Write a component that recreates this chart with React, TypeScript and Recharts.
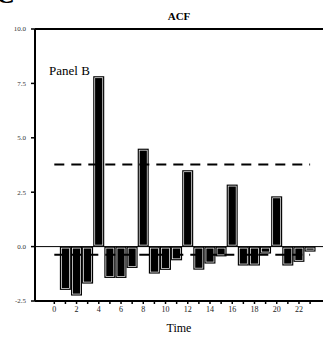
import React from 'react';
import { ComposedChart, Bar, XAxis, YAxis, ReferenceLine } from 'recharts';

const lags = [1, 2, 3, 4, 5, 6, 7, 8, 9, 10, 11, 12, 13, 14, 15, 16, 17, 18, 19, 20, 21, 22, 23];
const acfValues = [-1.99, -2.25, -1.7, 7.83, -1.44, -1.44, -0.98, 4.5, -1.24, -1.07, -0.63, 3.51, -1.06, -0.78, -0.45, 2.85, -0.87, -0.87, -0.32, 2.31, -0.87, -0.7, -0.23];
const upperBand = 3.77;
const lowerBand = -0.37;
const bandStart = 0;
const bandEnd = 23;
const xTicks = [0, 1, 2, 3, 4, 5, 6, 7, 8, 9, 10, 11, 12, 13, 14, 15, 16, 17, 18, 19, 20, 21, 22, 23];
const yTicks = [-2.5, 0, 2.5, 5, 7.5, 10];

const data = lags.map((lag, i) => ({ lag, acf: acfValues[i] }));

const BarShape = (props: any) => {
  const { x, y, width, height } = props;
  const y0 = Math.min(y, y + height);
  const h = Math.abs(height);
  return (
    <g>
      <rect x={x} y={y0} width={width} height={h} fill="#000" />
      {h > 3 && width > 3 ? (
        <rect x={x + 1.5} y={y0 + 1.5} width={width - 3} height={h - 3} fill="none" stroke="#fff" strokeWidth={0.7} />
      ) : null}
    </g>
  );
};

const serif = '"Liberation Serif", "DejaVu Serif", serif';

export default function App() {
  return (
    <div style={{ position: 'absolute', left: 0, top: 0, width: 323, height: 337, background: '#fff', overflow: 'hidden' }}>
      <ComposedChart width={323} height={337} data={data} margin={{ top: 29, right: 0, bottom: 0, left: 0 }}>
        <XAxis
          dataKey="lag"
          type="number"
          domain={[-1.736, 24.16]}
          ticks={xTicks}
          allowDataOverflow
          height={36}
          tickFormatter={(v: number) => (v % 2 === 0 ? String(v) : '')}
          tick={{ fontSize: 8, fill: '#222', fontFamily: serif }}
          tickSize={3}
          tickMargin={2}
          axisLine={{ stroke: '#000', strokeWidth: 2 }}
          tickLine={{ stroke: '#000', strokeWidth: 1.5 }}
        />
        <YAxis
          type="number"
          domain={[-2.5, 10]}
          ticks={yTicks}
          allowDataOverflow
          width={35}
          tickFormatter={(v: number) => v.toFixed(1)}
          tick={{ fontSize: 7, fill: '#333', fontFamily: serif }}
          tickSize={4}
          tickMargin={5}
          axisLine={{ stroke: '#000', strokeWidth: 2 }}
          tickLine={{ stroke: '#000', strokeWidth: 1.5 }}
        />
        <ReferenceLine y={10} stroke="#000" strokeWidth={2} />
        <ReferenceLine y={0} stroke="#000" strokeWidth={1} />
        <ReferenceLine
          segment={[{ x: bandStart, y: lowerBand }, { x: bandEnd, y: lowerBand }]}
          stroke="#000"
          strokeWidth={2}
          strokeDasharray="10 7"
        />
        <ReferenceLine
          segment={[{ x: bandStart, y: upperBand }, { x: bandEnd, y: upperBand }]}
          stroke="#000"
          strokeWidth={2}
          strokeDasharray="10 7"
        />
        <Bar dataKey="acf" barSize={11} shape={BarShape} isAnimationActive={false} />
      </ComposedChart>
      <svg width={323} height={337} style={{ position: 'absolute', left: 0, top: 0, pointerEvents: 'none' }}>
        <text x={-4} y={3} fontSize={26} fontWeight="bold" fontFamily={serif} fill="#000">C</text>
        <text x={179} y={20} textAnchor="middle" fontSize={11} fontWeight="bold" fontFamily={serif} fill="#000">ACF</text>
        <text x={49} y={75} fontSize={13} fontFamily={serif} fill="#000">Panel B</text>
        <text x={179} y={332} textAnchor="middle" fontSize={12} fontFamily={serif} fill="#000">Time</text>
      </svg>
    </div>
  );
}
